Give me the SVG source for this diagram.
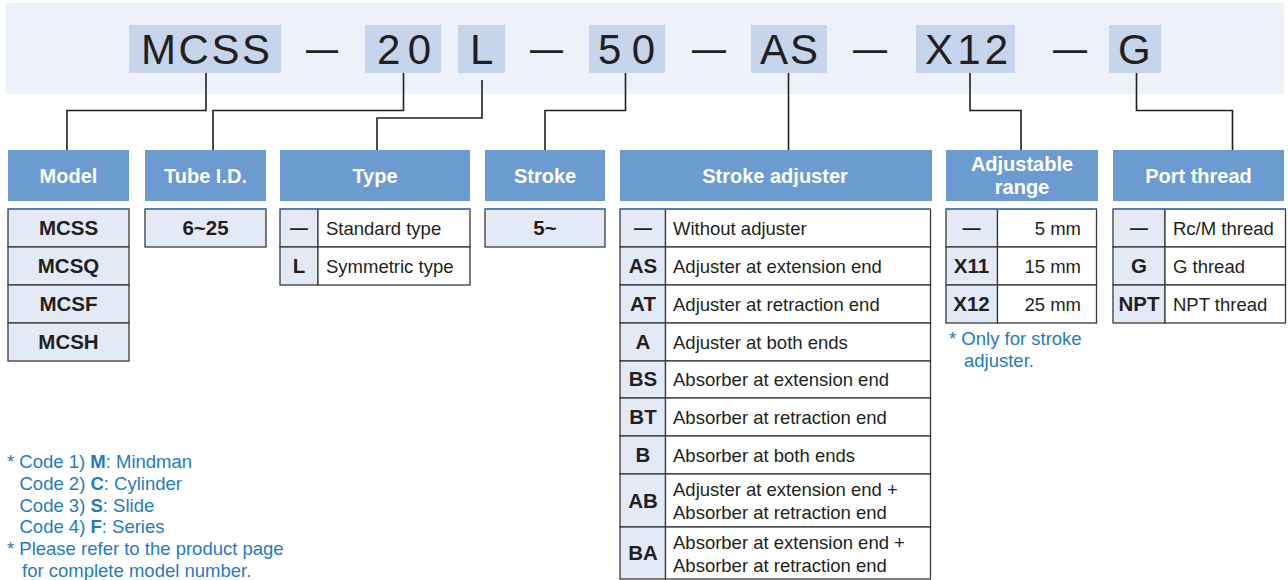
<svg xmlns="http://www.w3.org/2000/svg" width="1288" height="580" viewBox="0 0 1288 580">
<style>
.code{fill:#C6D4EC}
.big{font-family:"Liberation Sans",Arial,sans-serif;font-size:42px;fill:#231F20}
.hdr{fill:#6C9BD1}
.ht{font-family:"Liberation Sans",Arial,sans-serif;font-size:20px;font-weight:bold;fill:#fff;text-anchor:middle}
.cc{fill:#E3EAF6;stroke:#3A3A3A;stroke-width:1.3}
.dc{fill:#fff;stroke:#3A3A3A;stroke-width:1.3}
.cb{font-family:"Liberation Sans",Arial,sans-serif;font-size:20.5px;font-weight:bold;fill:#231F20;text-anchor:middle}
.ds{font-family:"Liberation Sans",Arial,sans-serif;font-size:18.5px;fill:#231F20}
.dash{font-family:"Liberation Sans",Arial,sans-serif;font-size:18px;font-weight:bold;fill:#231F20;text-anchor:middle}
.top{stroke:#4A80C2;stroke-width:1.5}
.note{font-family:"Liberation Sans",Arial,sans-serif;font-size:18.5px;fill:#1F7BC2}
.conn{fill:none;stroke:#231F20;stroke-width:1.6}
</style>
<rect x="6" y="3" width="1278" height="91" fill="#EDF1F9"/>
<g id="code">
<rect class="code" x="129" y="25" width="152" height="48"/>
<rect class="code" x="365" y="25" width="76" height="48"/>
<rect class="code" x="458" y="25" width="47" height="48"/>
<rect class="code" x="589" y="25" width="76" height="48"/>
<rect class="code" x="751" y="25" width="76" height="48"/>
<rect class="code" x="916" y="25" width="99" height="48"/>
<rect class="code" x="1109" y="25" width="52" height="48"/>
<text class="big" x="141" y="64" textLength="129" lengthAdjust="spacing">MCSS</text>
<text class="big" x="377" y="64" textLength="54" lengthAdjust="spacing">20</text>
<text class="big" x="470" y="64">L</text>
<text class="big" x="598" y="64" textLength="57" lengthAdjust="spacing">50</text>
<text class="big" x="760" y="64" textLength="58" lengthAdjust="spacing">AS</text>
<text class="big" x="925" y="64" textLength="83" lengthAdjust="spacing">X12</text>
<text class="big" x="1118" y="64">G</text>
<text class="big" x="306" y="62" textLength="32" lengthAdjust="spacingAndGlyphs">—</text>
<text class="big" x="530" y="62" textLength="33" lengthAdjust="spacingAndGlyphs">—</text>
<text class="big" x="692" y="62" textLength="34" lengthAdjust="spacingAndGlyphs">—</text>
<text class="big" x="853" y="62" textLength="34" lengthAdjust="spacingAndGlyphs">—</text>
<text class="big" x="1053" y="62" textLength="34" lengthAdjust="spacingAndGlyphs">—</text>
</g>
<g id="connectors">
<polyline class="conn" points="206,73 206,110.5 67,110.5 67,150"/>
<polyline class="conn" points="403.5,73 403.5,110.5 213,110.5 213,150"/>
<polyline class="conn" points="482,80 482,118 377,118 377,150"/>
<polyline class="conn" points="625.5,73 625.5,110.5 545,110.5 545,150"/>
<polyline class="conn" points="788.5,73 788.5,150"/>
<polyline class="conn" points="970,73 970,110.5 1021,110.5 1021,150"/>
<polyline class="conn" points="1136.5,73 1136.5,110.5 1232.5,110.5 1232.5,150"/>
</g>
<g id="model">
<rect class="hdr" x="8" y="150" width="121" height="51"/>
<text class="ht" x="68.5" y="183">Model</text>
<rect class="cc" x="8" y="209" width="121" height="38"/>
<rect class="cc" x="8" y="247" width="121" height="38"/>
<rect class="cc" x="8" y="285" width="121" height="38"/>
<rect class="cc" x="8" y="323" width="121" height="38"/>
<line class="top" x1="8" y1="209" x2="129" y2="209"/>
<text class="cb" x="68.5" y="235">MCSS</text>
<text class="cb" x="68.5" y="273">MCSQ</text>
<text class="cb" x="68.5" y="311">MCSF</text>
<text class="cb" x="68.5" y="349">MCSH</text>
</g>
<g id="tube">
<rect class="hdr" x="145" y="150" width="121" height="51"/>
<text class="ht" x="205.5" y="183">Tube I.D.</text>
<rect class="cc" x="145" y="209" width="121" height="38"/>
<line class="top" x1="145" y1="209" x2="266" y2="209"/>
<text class="cb" x="205.5" y="235">6~25</text>
</g>
<g id="type">
<rect class="hdr" x="280" y="150" width="190" height="51"/>
<text class="ht" x="375" y="183">Type</text>
<rect class="cc" x="280" y="209" width="38" height="38"/>
<rect class="dc" x="318" y="209" width="152" height="38"/>
<rect class="cc" x="280" y="247" width="38" height="38"/>
<rect class="dc" x="318" y="247" width="152" height="38"/>
<line class="top" x1="280" y1="209" x2="470" y2="209"/>
<text class="dash" x="299" y="234">—</text>
<text class="ds" x="326" y="235">Standard type</text>
<text class="cb" x="299" y="273">L</text>
<text class="ds" x="326" y="273">Symmetric type</text>
</g>
<g id="stroke">
<rect class="hdr" x="485" y="150" width="120" height="51"/>
<text class="ht" x="545" y="183">Stroke</text>
<rect class="cc" x="485" y="209" width="120" height="38"/>
<line class="top" x1="485" y1="209" x2="605" y2="209"/>
<text class="cb" x="545" y="235">5~</text>
</g>
<g id="adjuster">
<rect class="hdr" x="620" y="150" width="312" height="51"/>
<text class="ht" x="775" y="183">Stroke adjuster</text>
<rect class="cc" x="620" y="209" width="45.5" height="38"/><rect class="dc" x="665.5" y="209" width="265" height="38"/>
<rect class="cc" x="620" y="247" width="45.5" height="38"/><rect class="dc" x="665.5" y="247" width="265" height="38"/>
<rect class="cc" x="620" y="285" width="45.5" height="38"/><rect class="dc" x="665.5" y="285" width="265" height="38"/>
<rect class="cc" x="620" y="323" width="45.5" height="38"/><rect class="dc" x="665.5" y="323" width="265" height="38"/>
<rect class="cc" x="620" y="361" width="45.5" height="37"/><rect class="dc" x="665.5" y="361" width="265" height="37"/>
<rect class="cc" x="620" y="398" width="45.5" height="38"/><rect class="dc" x="665.5" y="398" width="265" height="38"/>
<rect class="cc" x="620" y="436" width="45.5" height="38"/><rect class="dc" x="665.5" y="436" width="265" height="38"/>
<rect class="cc" x="620" y="474" width="45.5" height="53"/><rect class="dc" x="665.5" y="474" width="265" height="53"/>
<rect class="cc" x="620" y="527" width="45.5" height="52"/><rect class="dc" x="665.5" y="527" width="265" height="52"/>
<line class="top" x1="620" y1="209" x2="930.5" y2="209"/>
<text class="dash" x="643" y="234">—</text>
<text class="ds" x="673" y="235">Without adjuster</text>
<text class="cb" x="643" y="273">AS</text>
<text class="ds" x="673" y="273">Adjuster at extension end</text>
<text class="cb" x="643" y="311">AT</text>
<text class="ds" x="673" y="311">Adjuster at retraction end</text>
<text class="cb" x="643" y="349">A</text>
<text class="ds" x="673" y="349">Adjuster at both ends</text>
<text class="cb" x="643" y="386">BS</text>
<text class="ds" x="673" y="386">Absorber at extension end</text>
<text class="cb" x="643" y="424">BT</text>
<text class="ds" x="673" y="424">Absorber at retraction end</text>
<text class="cb" x="643" y="462">B</text>
<text class="ds" x="673" y="462">Absorber at both ends</text>
<text class="cb" x="643" y="508">AB</text>
<text class="ds" x="673" y="496">Adjuster at extension end +</text>
<text class="ds" x="673" y="519">Absorber at retraction end</text>
<text class="cb" x="643" y="560">BA</text>
<text class="ds" x="673" y="549">Absorber at extension end +</text>
<text class="ds" x="673" y="572">Absorber at retraction end</text>
</g>
<g id="range">
<rect class="hdr" x="946" y="150" width="152" height="51"/>
<text class="ht" x="1022" y="171">Adjustable</text>
<text class="ht" x="1022" y="194">range</text>
<rect class="cc" x="946" y="209" width="51.5" height="38"/><rect class="dc" x="997.5" y="209" width="99" height="38"/>
<rect class="cc" x="946" y="247" width="51.5" height="38"/><rect class="dc" x="997.5" y="247" width="99" height="38"/>
<rect class="cc" x="946" y="285" width="51.5" height="38"/><rect class="dc" x="997.5" y="285" width="99" height="38"/>
<line class="top" x1="946" y1="209" x2="1096.5" y2="209"/>
<text class="dash" x="971.5" y="234">—</text>
<text class="ds" x="1081" y="235" text-anchor="end">5 mm</text>
<text class="cb" x="971.5" y="273">X11</text>
<text class="ds" x="1081" y="273" text-anchor="end">15 mm</text>
<text class="cb" x="971.5" y="311">X12</text>
<text class="ds" x="1081" y="311" text-anchor="end">25 mm</text>
<text class="note" x="949" y="345">* Only for stroke</text>
<text class="note" x="964" y="367">adjuster.</text>
</g>
<g id="port">
<rect class="hdr" x="1113" y="150" width="171" height="51"/>
<text class="ht" x="1198.5" y="183">Port thread</text>
<rect class="cc" x="1113" y="209" width="52" height="38"/><rect class="dc" x="1165" y="209" width="120.5" height="38"/>
<rect class="cc" x="1113" y="247" width="52" height="38"/><rect class="dc" x="1165" y="247" width="120.5" height="38"/>
<rect class="cc" x="1113" y="285" width="52" height="38"/><rect class="dc" x="1165" y="285" width="120.5" height="38"/>
<line class="top" x1="1113" y1="209" x2="1285.5" y2="209"/>
<text class="dash" x="1139" y="234">—</text>
<text class="ds" x="1173" y="235">Rc/M thread</text>
<text class="cb" x="1139" y="273">G</text>
<text class="ds" x="1173" y="273">G thread</text>
<text class="cb" x="1139" y="311">NPT</text>
<text class="ds" x="1173" y="311">NPT thread</text>
</g>
<g id="notes">
<text class="note" x="7" y="468">* Code 1) <tspan font-weight="bold">M</tspan>: Mindman</text>
<text class="note" x="19.5" y="490">Code 2) <tspan font-weight="bold">C</tspan>: Cylinder</text>
<text class="note" x="19.5" y="511.5">Code 3) <tspan font-weight="bold">S</tspan>: Slide</text>
<text class="note" x="19.5" y="533">Code 4) <tspan font-weight="bold">F</tspan>: Series</text>
<text class="note" x="7" y="555">* Please refer to the product page</text>
<text class="note" x="22" y="577">for complete model number.</text>
</g>
</svg>
